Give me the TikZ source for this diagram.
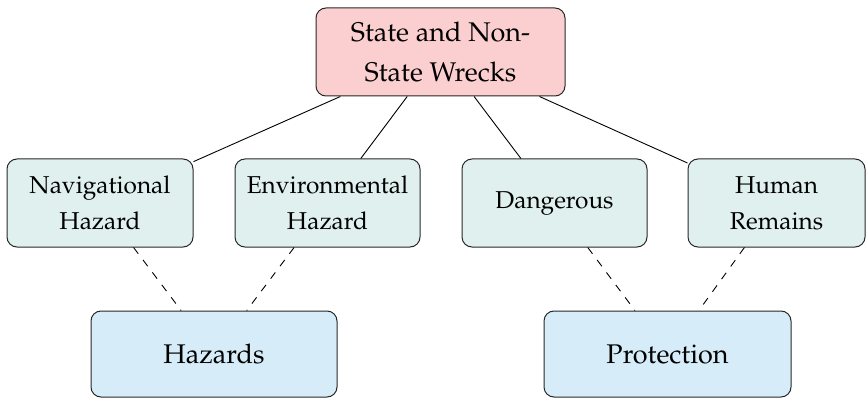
\documentclass[tikz,border=0pt]{standalone}
\usepackage[T1]{fontenc}
\usepackage{mathpazo}
\definecolor{topfill}{RGB}{251,207,208}
\definecolor{midfill}{RGB}{224,240,239}
\definecolor{botfill}{RGB}{214,236,248}
\definecolor{edge}{RGB}{40,40,40}
\tikzset{
  box/.style={draw=edge, line width=1pt, rounded corners=10pt, align=center, inner sep=0pt},
  topbox/.style={box, fill=topfill, minimum width=249pt, minimum height=88pt, font=\fontsize{27}{40}\selectfont},
  midbox/.style={box, fill=midfill, minimum height=88pt, font=\fontsize{24.4}{36}\selectfont},
  botbox/.style={box, fill=botfill, minimum width=246pt, minimum height=86pt, font=\fontsize{27}{40}\selectfont},
  solidlink/.style={draw=black, line width=0.9pt},
  dashlink/.style={draw=black, line width=0.9pt, dash pattern=on 7.8pt off 7.8pt},
}
\begin{document}
\begin{tikzpicture}[x=1pt,y=-1pt]
\useasboundingbox (0,0) rectangle (867,398);
\node[topbox] (top) at (440.5,52) {State and Non-\\State Wrecks};
\node[midbox, minimum width=186pt] (nav) at (100,203) {Navigational\\Hazard};
\node[midbox, minimum width=185pt] (env) at (327.5,203) {Environmental\\Hazard};
\node[midbox, minimum width=185pt] (dang) at (554.5,203) {Dangerous};
\node[midbox, minimum width=177pt] (hum) at (776.5,203) {Human\\Remains};
\node[botbox] (haz) at (214,354) {Hazards};
\node[botbox, minimum width=247pt] (prot) at (667.5,354) {Protection};
\draw[solidlink] (top) -- (nav);
\draw[solidlink] (top) -- (env);
\draw[solidlink] (top) -- (dang);
\draw[solidlink] (top) -- (hum);
\draw[dashlink] (nav) -- (haz);
\draw[dashlink] (env) -- (haz);
\draw[dashlink] (dang) -- (prot);
\draw[dashlink] (hum) -- (prot);
\end{tikzpicture}
\end{document}
